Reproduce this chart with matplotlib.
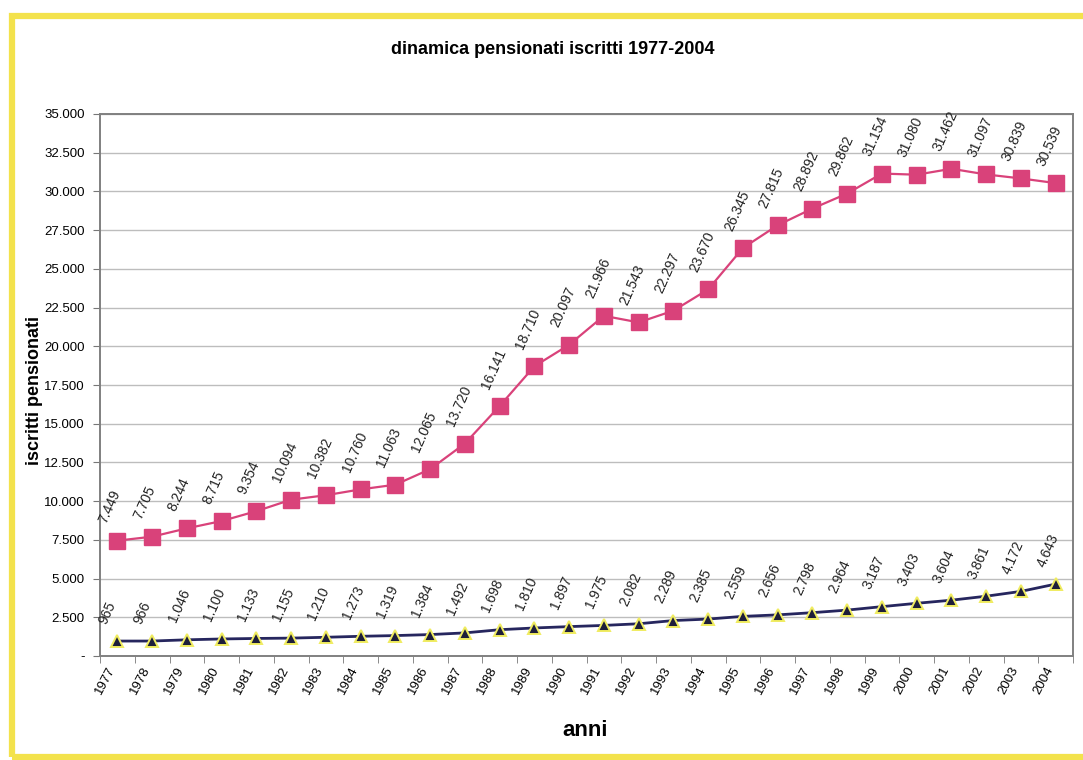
import numpy as np
import matplotlib.pyplot as plt
from matplotlib.patches import Rectangle
from matplotlib.ticker import FuncFormatter

plt.rcParams["font.family"] = ["Liberation Sans", "DejaVu Sans"]

# ─────────────────────────────────────────────
# Data
# ─────────────────────────────────────────────
years = list(range(1977, 2005))
iscritti_alti = [7449, 7705, 8244, 8715, 9354, 10094, 10382, 10760, 11063, 12065,
                 13720, 16141, 18710, 20097, 21966, 21543, 22297, 23670, 26345, 27815,
                 28892, 29862, 31154, 31080, 31462, 31097, 30839, 30539]
iscritti_bassi = [965, 966, 1046, 1100, 1133, 1155, 1210, 1273, 1319, 1384,
                  1492, 1698, 1810, 1897, 1975, 2082, 2289, 2385, 2559, 2656,
                  2798, 2964, 3187, 3403, 3604, 3861, 4172, 4643]


def ita(v):
    """Italian thousands separator; zero shown as '-'."""
    if v == 0:
        return "-"
    return f"{int(round(v)):,}".replace(",", ".")


fig = plt.figure(figsize=(10.83, 7.6), dpi=100)
fig.patch.set_facecolor("white")

# yellow frame round the chart
fig.patches.append(Rectangle((12 / 1083, 3 / 760), 1.2, 741 / 760,
                             transform=fig.transFigure, fill=False,
                             edgecolor="#F3E24C", linewidth=4.5, zorder=0))

ax = fig.add_axes([100 / 1083, 1 - 656 / 760, 973 / 1083, (656 - 114) / 760])

x = np.arange(len(years))
PINK = "#D9427A"
NAVY = "#26265E"

ax.plot(x, iscritti_alti, color=PINK, linewidth=1.6, marker="s",
        markersize=11, markerfacecolor=PINK, markeredgecolor=PINK, zorder=3)
ax.plot(x, iscritti_bassi, color=NAVY, linewidth=2.0, marker="^",
        markersize=8.5, markerfacecolor="#1E1E3A", markeredgecolor="#F0EC60",
        markeredgewidth=1.4, zorder=3)

for serie in (iscritti_alti, iscritti_bassi):
    for xi, v in zip(x, serie):
        ax.annotate(ita(v), (xi, v), xytext=(-6, 11), textcoords="offset points",
                    rotation=66, rotation_mode="anchor", ha="left", va="bottom",
                    fontsize=10, color="#222222")

# axes limits and ticks
ax.set_xlim(-0.5, len(years) - 0.5)
ax.set_ylim(0, 35000)
ax.set_yticks(np.arange(0, 35001, 2500))
ax.yaxis.set_major_formatter(FuncFormatter(lambda v, p: ita(v)))
ax.yaxis.grid(True, color="#BDBDBD", linewidth=1.0)
ax.set_axisbelow(True)

ax.set_xticks(x)
ax.set_xticklabels([str(y) for y in years], rotation=62, ha="right", va="bottom",
                   rotation_mode="anchor", fontsize=9.5)
ax.set_xticks(np.arange(-0.5, len(years)), minor=True)
ax.tick_params(axis="x", which="major", length=0, pad=10)
ax.tick_params(axis="x", which="minor", length=5, color="#777777", direction="out")
ax.tick_params(axis="y", length=5, color="#777777", labelsize=9.5, pad=6)

for s in ax.spines.values():
    s.set_color("#808080")
    s.set_linewidth(1.4)

fig.text(35 / 1083, 1 - 390 / 760, "iscritti pensionati", rotation=90,
         ha="center", va="center", fontsize=13, fontweight="bold")
fig.text(585 / 1083, 1 - 730 / 760, "anni", ha="center", va="center",
         fontsize=16, fontweight="bold")
fig.text(553 / 1083, 1 - 50 / 760, "dinamica pensionati iscritti 1977-2004",
         ha="center", va="center", fontsize=13, fontweight="bold")

fig.savefig("out.png", dpi=100)
